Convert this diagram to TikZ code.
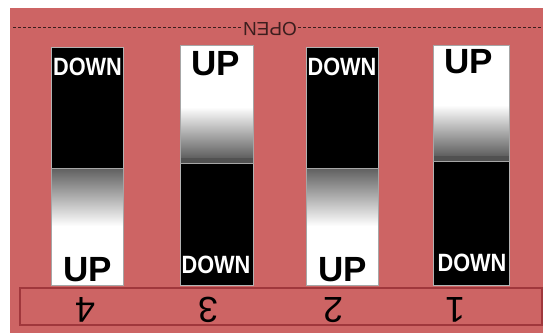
\documentclass[tikz,border=0pt]{standalone}
\usepackage{fontspec}
\setmainfont{Liberation Sans}
\newfontfamily\downfont[FakeStretch=0.87]{Liberation Sans}
\definecolor{bgpink}{RGB}{205,100,100}
\definecolor{boxred}{RGB}{160,55,60}
\definecolor{dashc}{RGB}{60,30,30}
\definecolor{knobgray}{RGB}{95,95,95}
\tikzset{
  downlbl/.style={text=white, inner sep=0pt, anchor=base, font=\downfont\bfseries\fontsize{25}{25}\selectfont},
  uplbl/.style={text=black, inner sep=0pt, anchor=base, font=\bfseries\fontsize{35}{35}\selectfont},
  numlbl/.style={text=black, inner sep=0pt, rotate=180, font=\fontsize{36}{36}\selectfont},
  body/.style={fill=black, draw=gray!60, line width=0.6pt},
  knob/.style={draw=gray!70, line width=0.8pt}
}
\begin{document}
\begin{tikzpicture}[x=1pt,y=-1pt]
\useasboundingbox (0,0) rectangle (543,333);
\fill[white] (0,0) rectangle (543,333);
\fill[bgpink] (10,8) rectangle (543,333);
% OPEN line
\node[inner sep=1pt, rotate=180, font=\fontsize{19}{19}\selectfont, text=dashc] (open) at (270,29) {OPEN};
\coordinate (dl) at (13,27);
\coordinate (dr) at (543,27);
\draw[dashc, dash pattern=on 3pt off 2pt, line width=0.8pt] (dl) -- (dl -| open.east);
\draw[dashc, dash pattern=on 3pt off 2pt, line width=0.8pt] (dr -| open.west) -- (dr);
% switch 4 (knob down)
\draw[body] (51,47) rectangle (123,285);
\fill[white] (51,168) rectangle (123,285);
\shade[top color=knobgray, bottom color=white] (51,168) rectangle (123,226);
\draw[knob] (51,168) rectangle (123,285);
\node[downlbl] (d4) at (87.5,75) {DOWN};
\node[uplbl] (u4) at (88,281) {UP};
% switch 3 (knob up)
\draw[body] (180,45) rectangle (253,285);
\fill[white] (180,45) rectangle (253,163);
\shade[top color=white, bottom color=knobgray] (180,107) rectangle (253,158);
\fill[knobgray!85!black] (180,158) rectangle (253,163);
\draw[knob] (180,45) rectangle (253,163);
\node[uplbl] (u3) at (216,75) {UP};
\node[downlbl] (d3) at (216,273) {DOWN};
% switch 2 (knob down)
\draw[body] (306,47) rectangle (378,285);
\fill[white] (306,168) rectangle (378,285);
\shade[top color=knobgray, bottom color=white] (306,168) rectangle (378,226);
\draw[knob] (306,168) rectangle (378,285);
\node[downlbl] (d2) at (342,75) {DOWN};
\node[uplbl] (u2) at (342.5,281) {UP};
% switch 1 (knob up)
\draw[body] (433,45) rectangle (509,285);
\fill[white] (433,45) rectangle (509,161);
\shade[top color=white, bottom color=knobgray] (433,105) rectangle (509,156);
\fill[knobgray!85!black] (433,156) rectangle (509,161);
\draw[knob] (433,45) rectangle (509,161);
\node[uplbl] (u1) at (469,73) {UP};
\node[downlbl] (d1) at (472,271) {DOWN};
% bottom number box
\draw[boxred, line width=1.5pt] (20,288) rectangle (542,325);
\node[numlbl] (n4) at (85,310) {4};
\node[numlbl] (n3) at (208,310) {3};
\node[numlbl] (n2) at (333,310) {2};
\node[numlbl] (n1) at (455,310) {1};
\end{tikzpicture}
\end{document}
